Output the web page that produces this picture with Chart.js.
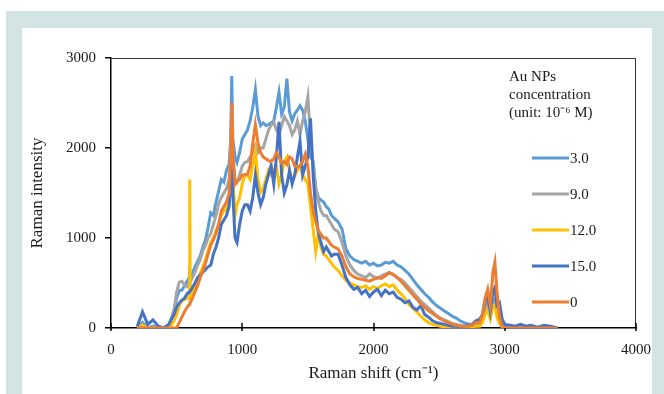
<!DOCTYPE html>
<html>
<head>
<meta charset="utf-8">
<script src="https://cdn.jsdelivr.net/npm/chart.js@4.4.1/dist/chart.umd.min.js"></script>
<style>
  html, body { margin: 0; padding: 0; background: #fff; }
  #border { position: absolute; left: 6px; top: 11px; width: 658px; height: 383px; background: #d2e4e4; }
  #panel { position: absolute; left: 22px; top: 28px; width: 630px; height: 366px; background: #fff; }
  canvas { position: absolute; left: 0; top: 0; }
</style>
</head>
<body>
<div id="border"></div>
<div id="panel"></div>
<canvas id="myChart" width="664" height="394"></canvas>
<script>
// Raman shift (cm-1), shared by every spectrum
const shift = [
  200, 240, 280, 320, 360, 400, 440, 460, 480, 500,
  520, 540, 560, 580, 596, 600, 604, 620, 640, 660,
  680, 700, 720, 740, 760, 780, 800, 820, 840, 860,
  880, 900, 912, 920, 928, 945, 960, 980, 1000, 1020,
  1040, 1060, 1080, 1100, 1120, 1140, 1160, 1180, 1200, 1220,
  1240, 1260, 1280, 1300, 1320, 1340, 1360, 1380, 1400, 1420,
  1440, 1460, 1480, 1500, 1520, 1540, 1560, 1580, 1600, 1620,
  1640, 1660, 1680, 1700, 1730, 1760, 1790, 1820, 1850, 1880,
  1910, 1940, 1970, 2000, 2030, 2060, 2090, 2120, 2150, 2180,
  2210, 2240, 2270, 2300, 2330, 2360, 2390, 2420, 2450, 2480,
  2510, 2540, 2570, 2600, 2630, 2660, 2690, 2720, 2750, 2780,
  2810, 2830, 2850, 2870, 2890, 2910, 2925, 2940, 2960, 2980,
  3000, 3040, 3080, 3120, 3160, 3200, 3250, 3300, 3350, 3400
];

// intensity for 3.0
const conc3 = [
  10, 60, 0, 20, 0, 0, 30, 100, 200, 330,
  420, 420, 470, 520, 560, 580, 560, 610, 680, 740,
  800, 900, 980, 1120, 1280, 1250, 1400, 1520, 1650, 1620,
  1750, 1820, 2100, 2800, 2100, 1900, 1840, 1950, 2100, 2150,
  2200, 2300, 2450, 2650, 2350, 2250, 2280, 2250, 2260, 2280,
  2300, 2450, 2620, 2380, 2450, 2770, 2400, 2300, 2380, 2420,
  2470, 2420, 2300, 2100, 1900, 1850, 1550, 1450, 1420, 1400,
  1350, 1320, 1250, 1220, 1180, 1100, 880, 800, 760, 740,
  720, 740, 700, 720, 690, 700, 730, 720, 740, 700,
  680, 640, 600, 540, 480, 430, 380, 340, 290, 250,
  220, 190, 160, 130, 110, 80, 60, 45, 30, 30,
  50, 100, 220, 280, 160, 300, 320, 200, 100, 40,
  10, 0, 0, 0, 0, 0, 0, 0, 0, 0
];

// intensity for 9.0
const conc9 = [
  0, 40, 0, 0, 0, 0, 20, 80, 200, 400,
  510, 520, 480, 460, 500, 520, 510, 560, 620, 700,
  760, 860, 920, 1000, 1050, 1150, 1250, 1380, 1450, 1500,
  1550, 1650, 1950, 2350, 1950, 1650, 1620, 1700, 1800, 1840,
  1850, 1900, 1950, 2030, 1950, 2000, 2000, 2100, 2200, 2250,
  2290, 2200, 2150, 2250, 2350, 2300, 2250, 2150, 2200, 2300,
  2150, 2300, 2400, 2570, 2100, 1800, 1550, 1400, 1300, 1250,
  1250, 1200, 1150, 1100, 1070, 950, 800, 700, 640, 600,
  580, 560, 600, 570, 550, 580, 600, 620, 590, 560,
  540, 500, 450, 400, 350, 300, 260, 220, 180, 140,
  110, 90, 70, 50, 40, 30, 20, 10, 10, 30,
  40, 100, 200, 250, 150, 280, 300, 180, 80, 20,
  0, 0, 0, 0, 0, 0, 0, 0, 0, 0
];

// intensity for 12.0
const conc12 = [
  0, 30, 0, 0, 0, 0, 0, 30, 80, 150,
  250, 300, 320, 330, 340, 1650, 350, 400, 460, 540,
  600, 680, 760, 860, 950, 1000, 1080, 1150, 1250, 1300,
  1320, 1420, 1750, 2300, 1700, 1250, 1370, 1450, 1600, 1700,
  1700, 1650, 1800, 1960, 1650, 1510, 1550, 1650, 1750, 1700,
  1750, 1800, 1600, 1700, 1850, 1900, 1750, 1650, 1700, 1750,
  1800, 1700, 1650, 1600, 1350, 1100, 850, 1050, 900, 820,
  800, 760, 720, 680, 640, 580, 530, 500, 480, 460,
  450, 470, 430, 460, 440, 470, 490, 460, 480, 420,
  380, 330, 260, 220, 180, 130, 90, 60, 40, 30,
  20, 10, 10, 0, 0, 0, 0, 0, 10, 20,
  20, 60, 150, 200, 100, 250, 250, 120, 50, 10,
  0, 0, 0, 0, 0, 0, 0, 0, 0, 0
];

// intensity for 15.0
const conc15 = [
  20, 180, 40, 90, 20, 0, 40, 100, 150, 230,
  280, 310, 330, 380, 400, 400, 410, 450, 500, 560,
  590, 620, 650, 680, 700, 820, 900, 1000, 1150, 1200,
  1250, 1350, 1600, 1950, 1500, 1000, 950, 1150, 1300, 1370,
  1370, 1300, 1450, 1700, 1500, 1370, 1450, 1600, 1700, 1810,
  1600, 1900, 2290, 1700, 1500, 1590, 1750, 1600, 1700, 1900,
  2070, 1700, 1800, 1900, 2330, 1700, 1300, 1050, 950, 850,
  900, 850, 800, 820, 820, 700, 560, 480, 430, 450,
  380, 420, 350, 400, 430, 360, 420, 380, 400, 340,
  320, 280, 300, 230, 200, 250, 150, 120, 80, 60,
  50, 40, 30, 20, 20, 10, 20, 30, 40, 80,
  100, 150, 300, 350, 180, 400, 450, 250, 280, 100,
  40, 30, 20, 40, 20, 30, 10, 30, 20, 0
];

// intensity for 0
const conc0 = [
  0, 0, 0, 0, 0, 0, 0, 0, 0, 0,
  60, 120, 180, 230, 260, 270, 280, 330, 400, 470,
  560, 640, 720, 820, 920, 980, 1050, 1150, 1300, 1350,
  1400, 1500, 1900, 2500, 1900, 1600, 1630, 1650, 1700, 1700,
  1710, 1800, 2050, 2260, 2050, 1950, 1900, 1880, 1860, 1850,
  1880, 1950, 1900, 1830, 1850, 1820, 1900, 1880, 1800, 1790,
  1800, 1850, 1930, 1800, 1500, 1300, 1180, 1080, 1040, 1000,
  1000, 960, 920, 900, 880, 800, 680, 600, 570, 550,
  540, 530, 520, 540, 560, 550, 580, 610, 600, 560,
  520, 470, 420, 370, 320, 270, 230, 190, 160, 130,
  100, 80, 60, 40, 30, 20, 20, 20, 30, 60,
  60, 150, 330, 430, 250, 620, 730, 420, 120, 20,
  0, 0, 0, 0, 0, 0, 0, 0, 0, 0
];

const concLabels = ['3.0', '9.0', '12.0', '15.0', '0'];
const seriesValues = [conc3, conc9, conc12, conc15, conc0];
const lineColors = ['#5b9bd5', '#a5a5a5', '#ffc000', '#4472c4', '#ed7d31'];
const legendTitle = ['Au NPs', 'concentration', '(unit: 10\u207B\u2076 M)'];

const xTicks = [0, 1000, 2000, 3000, 4000];
const yTicks = [0, 1000, 2000, 3000];

const serif = '"Liberation Serif", "Times New Roman", serif';
const textColor = '#1a1a1a';

// top/right edge of the plot box + the little inward x ticks
const framePlugin = {
  id: 'frame',
  beforeDatasetsDraw(chart) {
    const a = chart.chartArea;
    const ctx = chart.ctx;
    const xs = chart.scales.x;
    ctx.save();
    ctx.strokeStyle = '#333';
    ctx.lineWidth = 1;
    ctx.beginPath();
    ctx.moveTo(a.left, a.top + 0.5);
    ctx.lineTo(a.right - 0.5, a.top + 0.5);
    ctx.lineTo(a.right - 0.5, a.bottom);
    ctx.stroke();
    ctx.strokeStyle = '#000';
    ctx.lineWidth = 1.5;
    xTicks.forEach(v => {
      const px = Math.round(xs.getPixelForValue(v));
      ctx.beginPath();
      ctx.moveTo(px, a.bottom + 3);
      ctx.lineTo(px, a.bottom - 5);
      ctx.stroke();
    });
    ctx.restore();
  }
};

// legend inside the plot, like the excel one
const legendPlugin = {
  id: 'concLegend',
  afterDraw(chart) {
    const ctx = chart.ctx;
    ctx.save();
    ctx.fillStyle = textColor;
    ctx.textBaseline = 'middle';
    ctx.font = '15px ' + serif;
    legendTitle.forEach((t, i) => ctx.fillText(t, 509, 77 + i * 18));
    chart.data.datasets.forEach((ds, i) => {
      const y = 158 + i * 36;
      ctx.strokeStyle = ds.borderColor;
      ctx.lineWidth = 3;
      ctx.beginPath();
      ctx.moveTo(532, y);
      ctx.lineTo(569, y);
      ctx.stroke();
      ctx.fillText(ds.label, 570, y + 1);
    });
    ctx.restore();
  }
};

const datasets = concLabels.map((lab, i) => ({
  label: lab,
  data: shift.map((x, j) => ({ x: x, y: seriesValues[i][j] })),
  borderColor: lineColors[i],
  backgroundColor: lineColors[i],
  borderWidth: 3,
  pointRadius: 0,
  showLine: true,
  tension: 0,
  order: concLabels.length - i  // last series drawn on top
}));

let myChart = document.getElementById('myChart').getContext('2d');

let chart = new Chart(myChart, {
  type: 'scatter',
  data: { datasets: datasets },
  options: {
    responsive: false,
    animation: false,
    devicePixelRatio: 1,
    layout: { padding: { left: 0, top: 58, right: 28, bottom: 0 } },
    plugins: {
      legend: { display: false },
      tooltip: { enabled: false }
    },
    scales: {
      x: {
        type: 'linear',
        min: 0,
        max: 4000,
        afterFit: (s) => { s.height = 66; },
        afterBuildTicks: (s) => { s.ticks = xTicks.map(v => ({ value: v })); },
        border: { display: true, color: '#000', width: 1.5 },
        grid: { drawOnChartArea: false, drawTicks: false },
        ticks: {
          padding: 13,
          maxRotation: 0,
          color: textColor,
          font: { family: serif, size: 15 },
          callback: (v) => String(v)
        },
        title: {
          display: true,
          text: 'Raman shift (cm\u207B\u00B9)',
          color: textColor,
          font: { family: serif, size: 17 },
          padding: { top: 0, bottom: 10 }
        }
      },
      y: {
        type: 'linear',
        min: 0,
        max: 3000,
        afterFit: (s) => { s.width = 111; },
        afterBuildTicks: (s) => { s.ticks = yTicks.map(v => ({ value: v })); },
        border: { display: true, color: '#000', width: 1.5 },
        grid: { drawOnChartArea: false, drawTicks: true, tickLength: 6, color: '#000', lineWidth: 1.5 },
        ticks: {
          padding: 9,
          color: textColor,
          font: { family: serif, size: 15 },
          callback: (v) => String(v)
        },
        title: {
          display: true,
          text: 'Raman intensity',
          color: textColor,
          font: { family: serif, size: 17 },
          padding: { top: 27, bottom: 0 }
        }
      }
    }
  },
  plugins: [framePlugin, legendPlugin]
});
</script>
</body>
</html>
